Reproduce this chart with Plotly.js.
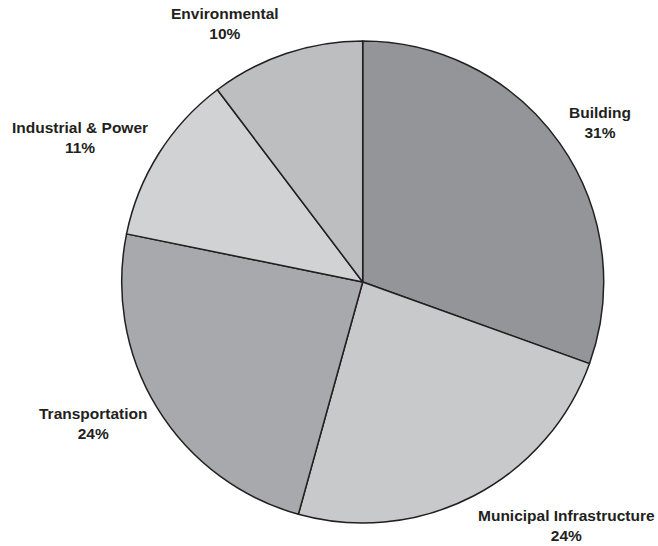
<!DOCTYPE html>
<html>
<head>
<meta charset="utf-8">
<script src="https://cdn.plot.ly/plotly-3.0.1.min.js"></script>
<style>html,body{margin:0;padding:0;background:#fff;}#chart{width:658px;height:546px;}</style>
</head>
<body>
<div id="chart"></div>
<script>
// Data
const categories = ["Building", "Municipal Infrastructure", "Transportation", "Industrial & Power", "Environmental"];
const shares = [30.5, 23.8, 23.9, 11.5, 10.3];
const pctLabels = ["31%", "24%", "24%", "11%", "10%"];

// Styles / positions
const sliceColors = ["#939598", "#c8c9cb", "#a7a9ac", "#d1d2d4", "#bcbec0"];
const labelPos = [[600, 123], [566, 525], [93, 423], [80, 137], [225, 24]];
const W = 658, H = 546;

const annotations = categories.map((c, i) => ({
  x: labelPos[i][0] / W, y: 1 - labelPos[i][1] / H,
  xref: "paper", yref: "paper", xanchor: "center", yanchor: "middle",
  showarrow: false, align: "center",
  text: "<b>" + c.replace("&", "&amp;") + "</b><br><b>" + pctLabels[i] + "</b>",
  font: {family: "Liberation Sans, Arial, sans-serif", size: 15.5, color: "#231f20"}
}));

const cx = 362.7, cy = 282, r = 241;
Plotly.newPlot("chart", [{
  type: "pie",
  labels: categories,
  values: shares,
  sort: false,
  direction: "clockwise",
  rotation: 0,
  textinfo: "none",
  hoverinfo: "label+percent",
  marker: {colors: sliceColors, line: {color: "#231f20", width: 1.5}},
  domain: {x: [(cx - r) / W, (cx + r) / W], y: [1 - (cy + r) / H, 1 - (cy - r) / H]}
}], {
  width: W, height: H,
  margin: {l: 0, r: 0, t: 0, b: 0},
  showlegend: false,
  paper_bgcolor: "#ffffff",
  annotations: annotations
}, {staticPlot: true});
</script>
</body>
</html>
